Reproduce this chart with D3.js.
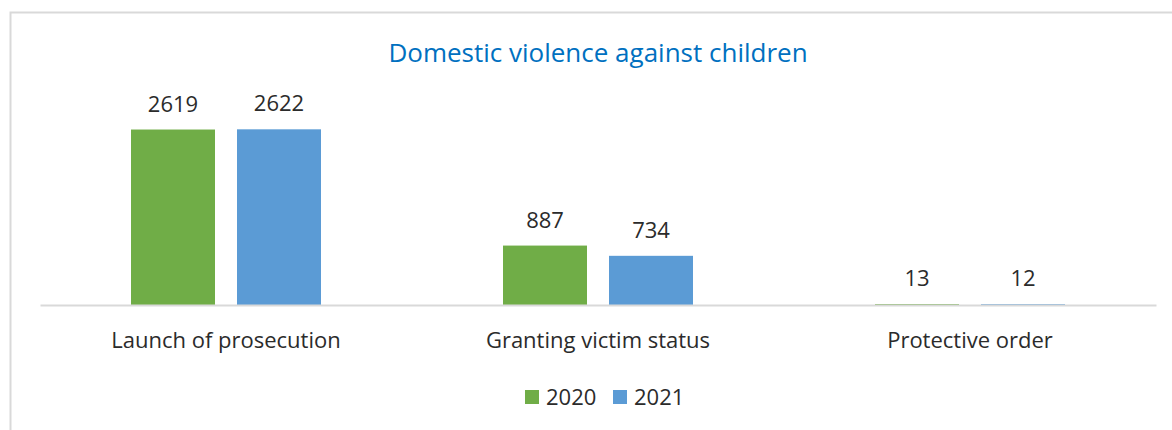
<!DOCTYPE html>
<html>
<head>
<meta charset="utf-8">
<script src="https://cdn.jsdelivr.net/npm/d3@7"></script>
<style>
  html, body { margin: 0; padding: 0; background: #fff; }
  svg { display: block; }
  text { font-family: "Open Sans", "Noto Sans", sans-serif; }
</style>
</head>
<body>
<svg id="chart" width="1172" height="430"></svg>
<script>
// Chart data
const categories = ["Launch of prosecution", "Granting victim status", "Protective order"];
const seriesNames = ["2020", "2021"];
const values2020 = [2619, 887, 13];
const values2021 = [2622, 734, 12];
const seriesColors = ["#70AD47", "#5B9BD5"];
const titleText = "Domestic violence against children";

const svg = d3.select("#chart");
const W = 1172, H = 430;
const textColor = "#2b2b2b";

// Outer frame (extends past right and bottom edges)
svg.append("rect")
  .attr("x", 10.5).attr("y", 12.5)
  .attr("width", W + 20).attr("height", H + 20)
  .attr("fill", "#fff")
  .attr("stroke", "#D9D9D9").attr("stroke-width", 2);

const plot = { left: 40, right: 1156, top: 104, bottom: 305 };

const x0 = d3.scaleBand()
  .domain(categories)
  .range([plot.left, plot.right])
  .paddingInner(0).paddingOuter(0);

const groupInner = 190; // width of the pair of bars in each group
const x1 = d3.scaleBand()
  .domain(seriesNames)
  .range([0, groupInner])
  .paddingInner(22 / 106);

const y = d3.scaleLinear()
  .domain([0, 3000])
  .range([plot.bottom, plot.top]);

const rows = categories.map((c, i) => ({
  category: c,
  vals: [values2020[i], values2021[i]]
}));

// Title
svg.append("text")
  .attr("x", 598).attr("y", 62)
  .attr("text-anchor", "middle")
  .attr("fill", "#0070C0")
  .attr("font-size", 26)
  .text(titleText);

// Bars
const groups = svg.append("g").selectAll("g")
  .data(rows).join("g")
  .attr("transform", d => `translate(${x0(d.category) + (x0.bandwidth() - groupInner) / 2},0)`);

groups.selectAll("rect")
  .data(d => d.vals.map((v, j) => ({ series: seriesNames[j], v, j })))
  .join("rect")
  .attr("x", d => x1(d.series))
  .attr("width", x1.bandwidth())
  .attr("y", d => y(d.v))
  .attr("height", d => y(0) - y(d.v))
  .attr("fill", d => seriesColors[d.j]);

// Value labels
groups.selectAll("text.val")
  .data(d => d.vals.map((v, j) => ({ series: seriesNames[j], v, j })))
  .join("text")
  .attr("class", "val")
  .attr("x", d => x1(d.series) + x1.bandwidth() / 2)
  .attr("y", d => y(d.v) - 18)
  .attr("text-anchor", "middle")
  .attr("font-size", 22)
  .attr("fill", textColor)
  .text(d => d.v);

// Category axis
const xAxis = svg.append("g")
  .attr("transform", `translate(0,${plot.bottom})`)
  .call(d3.axisBottom(x0).tickSize(0).tickPadding(27));
xAxis.select(".domain").attr("stroke", "#D9D9D9").attr("stroke-width", 2);
xAxis.selectAll("text")
  .attr("font-size", 22)
  .attr("fill", textColor)
  .attr("font-family", "\"Open Sans\", \"Noto Sans\", sans-serif");

// Legend
const legend = svg.append("g");
const legendItems = [
  { name: seriesNames[0], color: seriesColors[0], x: 525 },
  { name: seriesNames[1], color: seriesColors[1], x: 613 }
];
legendItems.forEach(it => {
  legend.append("rect")
    .attr("x", it.x).attr("y", 390)
    .attr("width", 14).attr("height", 14)
    .attr("fill", it.color);
  legend.append("text")
    .attr("x", it.x + 21).attr("y", 405)
    .attr("font-size", 22)
    .attr("fill", textColor)
    .text(it.name);
});
</script>
</body>
</html>
